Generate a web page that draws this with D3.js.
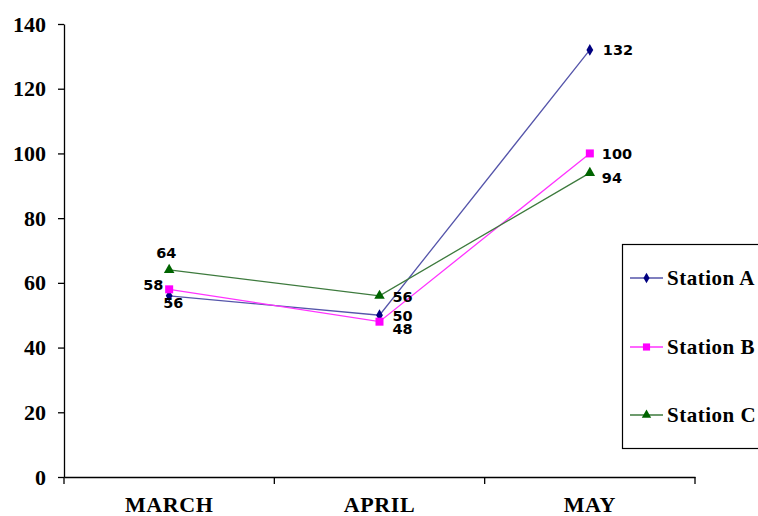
<!DOCTYPE html>
<html><head><meta charset="utf-8">
<script src="https://cdn.jsdelivr.net/npm/d3@7"></script>
<style>body{margin:0;background:#fff}svg{display:block}</style>
</head><body>
<script>
const categories = ["MARCH", "APRIL", "MAY"];
const stationA = [56, 50, 132];
const stationB = [58, 48, 100];
const stationC = [64, 56, 94];
const seriesNames = ["Station A", "Station B", "Station C"];
const yTicks = [0, 20, 40, 60, 80, 100, 120, 140];

(function () {
const W = 758, H = 516;
const mLeft = 64, mRight = 695, mTop = 24, mBottom = 477;
const svg = d3.select("body").append("svg").attr("width", W).attr("height", H);

const x = d3.scaleBand().domain(categories).range([mLeft, mRight]);
const y = d3.scaleLinear().domain([0, 140]).range([mBottom, mTop]);

const serif = "'Liberation Serif','Times New Roman',serif";
const sans = "'DejaVu Sans',Verdana,sans-serif";

// y axis
const ya = svg.append("g").attr("transform", `translate(${mLeft},0)`)
  .call(d3.axisLeft(y).tickValues(yTicks).tickSize(6).tickPadding(12).tickSizeOuter(0));
ya.select(".domain").attr("stroke", "#000").attr("stroke-width", 1.3);
ya.selectAll(".tick line").attr("stroke", "#000").attr("stroke-width", 1.3);
ya.selectAll("text").attr("font-family", serif).attr("font-weight", "bold").attr("font-size", 22).attr("fill", "#000");

// x axis
const xa = svg.append("g").attr("transform", `translate(0,${mBottom})`)
  .call(d3.axisBottom(x).tickSize(0).tickPadding(19).tickSizeOuter(0));
xa.select(".domain").attr("stroke", "#000").attr("stroke-width", 1.3);
xa.selectAll("text").attr("font-family", serif).attr("font-weight", "bold").attr("font-size", 22)
  .attr("letter-spacing", 0.6).attr("fill", "#000");
const bounds = [mLeft].concat(categories.map(c => x(c) + x.bandwidth()));
svg.append("g").selectAll("line").data(bounds).join("line")
  .attr("x1", d => d).attr("x2", d => d).attr("y1", mBottom).attr("y2", mBottom + 7)
  .attr("stroke", "#000").attr("stroke-width", 1.3);

const cx = c => x(c) + x.bandwidth() / 2;
const series = [
  {name: seriesNames[0], values: stationA, line: "#5555aa", mark: "#000080", sym: d3.symbolDiamond, size: 40},
  {name: seriesNames[1], values: stationB, line: "#ff33ff", mark: "#ff00ff", sym: d3.symbolSquare, size: 64},
  {name: seriesNames[2], values: stationC, line: "#3d7a3d", mark: "#006400", sym: d3.symbolTriangle, size: 48}
];
// label offsets [dx, dy] per series / category
const labelOffsets = [
  [[-6, 12], [13, 6], [13, 5]],
  [[-26, 1], [13, 12], [12, 6]],
  [[-13, -12], [13, 6], [12, 10]]
];

const line = d3.line().x((d, i) => cx(categories[i])).y(d => y(d));
series.forEach((s) => {
  svg.append("path").datum(s.values).attr("d", line)
    .attr("fill", "none").attr("stroke", s.line).attr("stroke-width", 1.3);
});
series.forEach((s) => {
  svg.append("g").selectAll("path").data(s.values).join("path")
    .attr("d", d3.symbol().type(s.sym).size(s.size))
    .attr("transform", (d, i) => `translate(${cx(categories[i])},${y(d)})`)
    .attr("fill", s.mark);
});
series.forEach((s, si) => {
  svg.append("g").selectAll("text").data(s.values).join("text")
    .attr("x", (d, i) => cx(categories[i]) + labelOffsets[si][i][0])
    .attr("y", (d, i) => y(d) + labelOffsets[si][i][1])
    .attr("font-family", sans).attr("font-weight", "bold").attr("font-size", 14.5)
    .attr("fill", "#000").text(d => d);
});

// legend
const lg = svg.append("g");
lg.append("rect").attr("x", 622.5).attr("y", 244.5).attr("width", 160).attr("height", 204)
  .attr("fill", "#fff").attr("stroke", "#000").attr("stroke-width", 1.2);
const legY = [278, 347, 415];
series.forEach((s, i) => {
  lg.append("line").attr("x1", 630).attr("x2", 663).attr("y1", legY[i]).attr("y2", legY[i])
    .attr("stroke", s.line).attr("stroke-width", 1.3);
  lg.append("path").attr("d", d3.symbol().type(s.sym).size(s.size * 0.8))
    .attr("transform", `translate(646.5,${legY[i]})`).attr("fill", s.mark);
  lg.append("text").attr("x", 667).attr("y", legY[i] + 7)
    .attr("font-family", serif).attr("font-weight", "bold").attr("font-size", 21)
    .attr("letter-spacing", 0.5).attr("fill", "#000").text(s.name);
});
})();
</script>
</body></html>
